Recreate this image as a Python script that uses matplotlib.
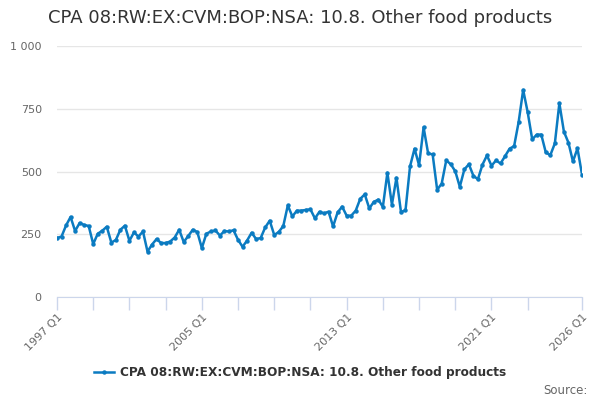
import numpy as np
import matplotlib.pyplot as plt
from matplotlib.ticker import FuncFormatter

# quarterly values, 1997 Q1 .. 2026 Q1
years = list(range(1997, 2027))
values = [
    235, 241, 285, 319,   # 1997
    263, 295, 287, 283,   # 1998
    211, 252, 264, 280,   # 1999
    217, 227, 268, 284,   # 2000
    224, 257, 241, 261,   # 2001
    181, 209, 231, 215,   # 2002
    215, 221, 237, 268,   # 2003
    219, 243, 268, 259,   # 2004
    195, 252, 261, 265,   # 2005
    245, 263, 261, 266,   # 2006
    228, 200, 225, 256,   # 2007
    231, 235, 277, 304,   # 2008
    247, 259, 283, 365,   # 2009
    321, 344, 344, 347,   # 2010
    349, 313, 340, 333,   # 2011
    340, 281, 337, 360,   # 2012
    324, 324, 344, 391,   # 2013
    409, 353, 379, 388,   # 2014
    359, 495, 368, 475,   # 2015
    339, 345, 520, 591,   # 2016
    525, 676, 572, 568,   # 2017
    427, 452, 544, 529,   # 2018
    501, 439, 508, 529,   # 2019
    483, 469, 527, 564,   # 2020
    523, 544, 532, 561,   # 2021
    591, 601, 697, 825,   # 2022
    736, 628, 647, 647,   # 2023
    576, 565, 612, 772,   # 2024
    659, 615, 540, 592,   # 2025
    488,                  # 2026
]
quarters = ['%d Q%d' % (y, q) for y in years for q in range(1, 5)][:len(values)]
label_quarters = ['1997 Q1', '2005 Q1', '2013 Q1', '2021 Q1', '2026 Q1']
series_name = 'CPA 08:RW:EX:CVM:BOP:NSA: 10.8. Other food products'

x = np.arange(len(values))
line_color = '#0b7bc1'

fig = plt.figure(figsize=(6, 4), dpi=100)
ax = fig.add_axes([0.095, 0.2575, 0.875, 0.6275])

ax.plot(x, values, color=line_color, lw=1.8, marker='o', ms=2.2,
        label=series_name, zorder=3)

ax.set_xlim(0, len(values) - 1)
ax.set_ylim(0, 1000)
ax.set_yticks([0, 250, 500, 750, 1000])
ax.yaxis.set_major_formatter(FuncFormatter(
    lambda v, p: '{:,.0f}'.format(v).replace(',', ' ')))
ax.grid(axis='y', color='#e6e6e6', lw=1)
ax.set_axisbelow(True)

tick_pos = list(range(0, 105, 8)) + [len(values) - 1]
ax.set_xticks(tick_pos)
ax.set_xticklabels([quarters[i] if quarters[i] in label_quarters else ''
                    for i in tick_pos],
                   rotation=45, ha='right', rotation_mode='anchor')

for s in ['top', 'right', 'left']:
    ax.spines[s].set_visible(False)
ax.spines['bottom'].set_color('#ccd6eb')
ax.tick_params(axis='x', colors='#ccd6eb', length=9, width=1,
               labelcolor='#666666', labelsize=8, pad=2)
ax.tick_params(axis='y', length=0, labelcolor='#666666', labelsize=8, pad=11)

fig.text(0.5, 0.955, series_name, ha='center', va='center',
         fontsize=13, color='#333333')
leg = fig.legend(loc='center', bbox_to_anchor=(0.5, 0.068), frameon=False,
                 handlelength=1.7, handletextpad=0.5,
                 prop={'size': 8.7, 'weight': 'bold'})
for t in leg.get_texts():
    t.set_color('#333333')
fig.text(0.98, 0.025, 'Source:', ha='right', va='center',
         fontsize=8.5, color='#666666')

fig.savefig('out.png', dpi=100)
